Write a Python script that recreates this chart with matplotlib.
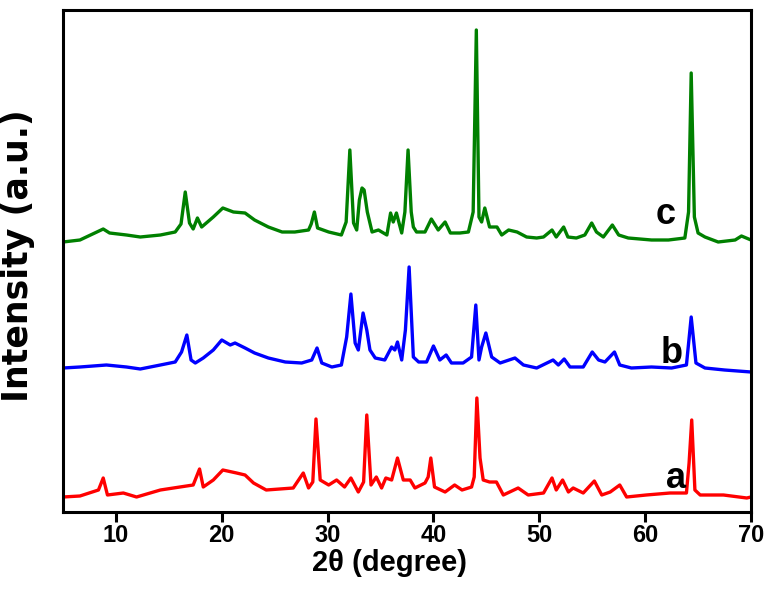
import matplotlib
matplotlib.use("Agg")
import matplotlib.pyplot as plt

# ---- data (2theta in degree, intensity in a.u., offsets included) ----
two_theta_c = [5.0, 6.6, 8.8, 9.4, 11.0, 12.3, 14.2, 15.6, 16.15, 16.55, 16.95, 17.3, 17.7, 18.1,
               19.2, 20.1, 21.1, 22.2, 23.1, 24.4, 25.7, 26.9, 28.2, 28.45, 28.75, 29.05, 30.1,
               31.3, 31.75, 32.1, 32.45, 32.75, 33.0, 33.25, 33.45, 33.75, 34.2, 34.8, 35.6,
               35.95, 36.2, 36.5, 37.0, 37.3, 37.6, 37.9, 38.1, 38.4, 39.2, 39.8, 40.45, 41.1,
               41.6, 42.5, 43.3, 43.75, 44.05, 44.3, 44.55, 44.85, 45.3, 46.0, 46.45, 47.1, 47.9,
               48.8, 49.75, 50.4, 51.2, 51.6, 52.3, 52.7, 53.5, 54.3, 54.95, 55.4, 56.05, 56.9,
               57.5, 58.4, 60.6, 62.2, 63.75, 64.1, 64.35, 64.65, 65.0, 65.65, 66.9, 68.5, 69.1,
               70.0]
intensity_c = [270, 272, 283, 279, 277, 275, 277, 280, 288, 320, 289, 283, 294, 285,
               295, 304, 300, 299, 292, 285, 280, 280, 282, 288, 300, 284, 280,
               277, 290, 362, 289, 282, 312, 324, 322, 300, 280, 282, 277,
               299, 290, 299, 279, 300, 362, 300, 285, 280, 280, 293, 282, 290,
               279, 279, 280, 300, 482, 295, 290, 304, 285, 285, 277, 282, 280,
               275, 274, 275, 282, 275, 285, 275, 274, 277, 289, 280, 275, 287,
               277, 274, 272, 272, 274, 300, 439, 295, 279, 275, 270, 272, 276,
               272]

two_theta_b = [5.0, 6.6, 9.1, 11.0, 12.3, 14.2, 15.6, 16.2, 16.7, 17.1, 17.5, 18.25, 19.2, 20.0,
               20.8, 21.25, 22.2, 23.1, 24.4, 26.0, 27.55, 28.5, 29.0, 29.45, 30.4, 31.3, 31.8,
               32.2, 32.6, 32.9, 33.35, 33.7, 34.0, 34.5, 35.4, 36.05, 36.35, 36.6, 37.0, 37.35,
               37.7, 38.1, 38.6, 39.35, 40.0, 40.6, 41.2, 41.7, 42.8, 43.6, 44.0, 44.3, 44.55,
               44.95, 45.5, 46.3, 47.7, 48.5, 49.75, 51.3, 51.8, 52.35, 52.9, 54.15, 55.0, 55.6,
               56.2, 57.1, 57.6, 58.7, 60.6, 62.5, 63.9, 64.35, 64.8, 65.65, 67.5, 70.0]
intensity_b = [144, 145, 147, 145, 143, 147, 150, 160, 177, 152, 149, 154, 162, 172,
               167, 169, 164, 159, 154, 150, 149, 152, 164, 149, 145, 147, 175,
               218, 169, 162, 199, 182, 162, 154, 152, 165, 162, 170, 152, 182,
               245, 155, 150, 150, 166, 152, 157, 149, 149, 155, 207, 152, 165,
               179, 155, 149, 154, 147, 144, 152, 147, 153, 145, 145, 160, 152,
               150, 160, 147, 144, 145, 144, 147, 195, 149, 144, 142, 140]

two_theta_a = [5.0, 6.6, 8.35, 8.8, 9.2, 10.7, 11.95, 14.2, 16.05, 17.3, 17.9, 18.25, 19.2, 20.1,
               21.4, 22.2, 23.0, 24.2, 26.75, 27.7, 28.2, 28.6, 28.9, 29.3, 30.1, 30.85, 31.6,
               32.2, 32.9, 33.4, 33.7, 34.1, 34.6, 35.1, 35.5, 36.05, 36.6, 37.15, 37.8, 38.25,
               39.2, 39.5, 39.75, 40.1, 41.1, 42.0, 42.7, 43.6, 43.85, 44.1, 44.4, 44.7, 45.3,
               45.95, 46.6, 48.0, 48.95, 50.4, 51.2, 51.6, 52.2, 52.75, 53.2, 54.15, 55.2, 55.9,
               56.7, 57.6, 58.25, 60.1, 62.35, 63.9, 64.15, 64.4, 64.7, 65.2, 67.4, 69.6, 70.0]
intensity_a = [15, 16, 22, 34, 17, 19, 15, 22, 25, 27, 43, 25, 32, 42,
               39, 37, 29, 22, 24, 39, 24, 30, 93, 32, 27, 32, 25,
               34, 20, 30, 97, 27, 35, 24, 34, 32, 54, 32, 32, 24,
               29, 35, 54, 25, 20, 27, 22, 25, 35, 114, 54, 32, 30,
               30, 17, 24, 17, 19, 34, 22, 32, 20, 24, 19, 31, 17,
               20, 27, 15, 17, 19, 19, 49, 92, 22, 17, 17, 14, 15]

series_labels = ["a", "b", "c"]
series_colors = ["#ff0000", "#0000ff", "#008000"]
x_ticks = [10, 20, 30, 40, 50, 60, 70]

# ---- figure ----
fig = plt.figure(figsize=(7.68, 5.94), dpi=100)
ax = fig.add_axes([63 / 768, (594 - 512) / 594, 688 / 768, 502 / 594])

data = [(two_theta_a, intensity_a), (two_theta_b, intensity_b), (two_theta_c, intensity_c)]
for (xs, ys), col in zip(data, series_colors):
    ax.plot(xs, ys, color=col, lw=2.4, solid_joinstyle="round")

label_pos = [(62.9, 24), (62.5, 149), (61.9, 288)]
for lab, (lx, ly) in zip(series_labels, label_pos):
    ax.text(lx, ly, lab, fontsize=26, fontweight="bold", family="Liberation Sans",
            ha="center", va="baseline", color="black")

ax.set_xlim(5, 70)
ax.set_ylim(0, 502)
ax.set_xticks(x_ticks)
ax.set_xticklabels([str(t) for t in x_ticks], fontsize=17, fontweight="bold",
                   family="Liberation Sans")
ax.set_yticks([])
ax.tick_params(axis="x", direction="out", length=7, width=2.2, pad=2)
for sp in ax.spines.values():
    sp.set_linewidth(2.2)

ax.set_xlabel("2θ (degree)", fontsize=21, fontweight="bold", family="Liberation Sans")
ax.xaxis.label.set_va("center")
ax.xaxis.set_label_coords(0.474, -0.102)
ax.set_ylabel("Intensity (a.u.)", fontsize=25, fontweight="bold", family="DejaVu Sans")
ax.yaxis.label.set_va("center")
ax.yaxis.set_label_coords(-0.065, 0.51)

fig.savefig("out.png", dpi=100)
